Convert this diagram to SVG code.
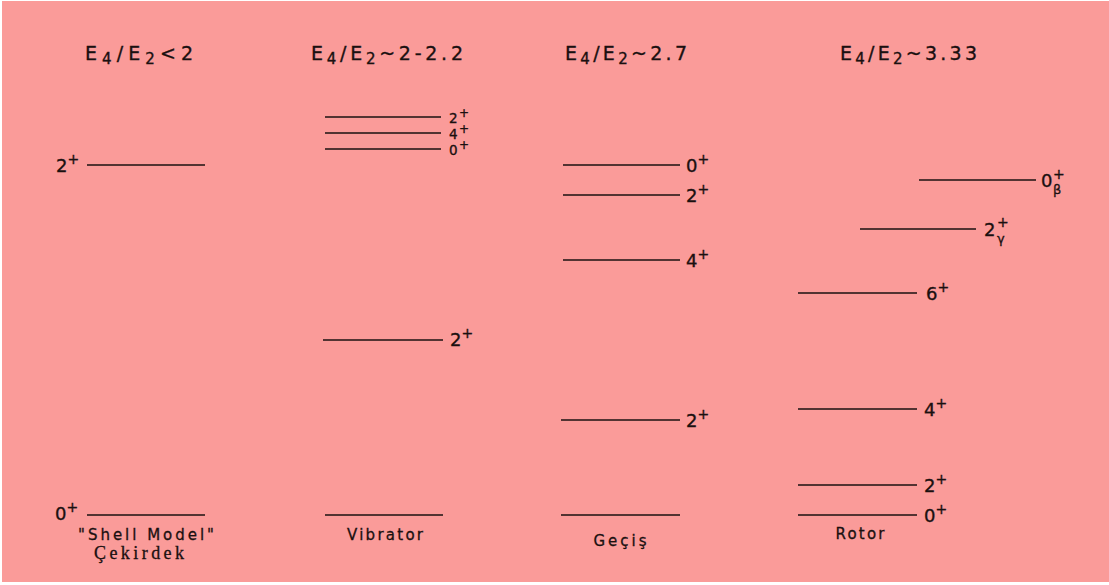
<svg xmlns="http://www.w3.org/2000/svg" width="1109" height="585" viewBox="0 0 1109 585">
<style>
.bg{fill:#fa9b99}
.lvl{stroke:#1a1010;stroke-width:1.7;fill:none}
.h{font-family:"DejaVu Sans",sans-serif;font-size:19px;fill:#1a1010;stroke:#1a1010;stroke-width:0.35}
.sb{font-size:15px}
.lb{font-family:"DejaVu Sans",sans-serif;font-size:18px;fill:#1a1010;stroke:#1a1010;stroke-width:0.35}
.st{font-size:13.5px}
.sp{font-size:14px}
.sq{font-size:12px}
.gk{font-family:"DejaVu Sans",sans-serif;font-size:13px;fill:#1a1010;stroke:#1a1010;stroke-width:0.3}
.nm{font-family:"DejaVu Sans",sans-serif;font-size:15px;fill:#1a1010;stroke:#1a1010;stroke-width:0.3;text-anchor:middle}
.sf{font-family:"Liberation Serif",serif;font-size:18px;fill:#1a1010;stroke:#1a1010;stroke-width:0.3;text-anchor:middle}
</style>
<rect x="0" y="0" width="1109" height="585" fill="#ffffff"/>
<rect class="bg" x="2" y="1" width="1107" height="581"/>

<g id="col-shell">
<text class="h" x="85" y="60" textLength="108">E<tspan class="sb" dy="4">4</tspan><tspan dy="-4">/E</tspan><tspan class="sb" dy="4">2</tspan><tspan dy="-4">&lt;2</tspan></text>
<g id="shell-2"><line class="lvl" x1="87" y1="165" x2="205" y2="165"/><text class="lb" x="56" y="172">2<tspan class="sp" dy="-8">+</tspan></text></g>
<g id="shell-0"><line class="lvl" x1="87" y1="515" x2="205" y2="515"/><text class="lb" x="55" y="520">0<tspan class="sp" dy="-8">+</tspan></text></g>
<text class="nm" x="146" y="540" textLength="136">"Shell Model"</text>
<text class="sf" x="139" y="559" textLength="90">Çekirdek</text>
</g>

<g id="col-vibrator">
<text class="h" x="311" y="60" textLength="152">E<tspan class="sb" dy="4">4</tspan><tspan dy="-4">/E</tspan><tspan class="sb" dy="4">2</tspan><tspan dy="-4">~2-2.2</tspan></text>
<g id="vib-2b"><line class="lvl" x1="325" y1="117" x2="441" y2="117"/><text class="lb st" x="449" y="123">2</text><text class="lb sq" x="459" y="117">+</text></g>
<g id="vib-4"><line class="lvl" x1="325" y1="133" x2="441" y2="133"/><text class="lb st" x="449" y="139">4</text><text class="lb sq" x="459" y="133">+</text></g>
<g id="vib-0b"><line class="lvl" x1="325" y1="149" x2="441" y2="149"/><text class="lb st" x="449" y="155">0</text><text class="lb sq" x="459" y="149">+</text></g>
<g id="vib-2"><line class="lvl" x1="323" y1="340" x2="443" y2="340"/><text class="lb" x="450" y="346">2<tspan class="sp" dy="-8">+</tspan></text></g>
<g id="vib-0"><line class="lvl" x1="325" y1="515" x2="443" y2="515"/></g>
<text class="nm" x="385" y="540" textLength="76">Vibrator</text>
</g>

<g id="col-gecis">
<text class="h" x="565" y="60" textLength="122">E<tspan class="sb" dy="4">4</tspan><tspan dy="-4">/E</tspan><tspan class="sb" dy="4">2</tspan><tspan dy="-4">~2.7</tspan></text>
<g id="gec-0b"><line class="lvl" x1="563" y1="165" x2="680" y2="165"/><text class="lb" x="686" y="172">0<tspan class="sp" dy="-8">+</tspan></text></g>
<g id="gec-2b"><line class="lvl" x1="563" y1="195" x2="680" y2="195"/><text class="lb" x="686" y="202">2<tspan class="sp" dy="-8">+</tspan></text></g>
<g id="gec-4"><line class="lvl" x1="563" y1="260" x2="680" y2="260"/><text class="lb" x="686" y="267">4<tspan class="sp" dy="-8">+</tspan></text></g>
<g id="gec-2"><line class="lvl" x1="561" y1="420" x2="680" y2="420"/><text class="lb" x="686" y="427">2<tspan class="sp" dy="-8">+</tspan></text></g>
<g id="gec-0"><line class="lvl" x1="561" y1="515" x2="680" y2="515"/></g>
<text class="nm" x="620" y="546" textLength="53">Geçiş</text>
</g>

<g id="col-rotor">
<text class="h" x="840" y="60" textLength="137">E<tspan class="sb" dy="4">4</tspan><tspan dy="-4">/E</tspan><tspan class="sb" dy="4">2</tspan><tspan dy="-4">~3.33</tspan></text>
<g id="rot-0beta"><line class="lvl" x1="919" y1="180" x2="1036" y2="180"/><text class="lb" x="1041" y="187">0</text><text class="lb sp" x="1053" y="179">+</text><text class="gk" x="1053" y="194">β</text></g>
<g id="rot-2gamma"><line class="lvl" x1="860" y1="229" x2="976" y2="229"/><text class="lb" x="984" y="236">2</text><text class="lb sp" x="997" y="227">+</text><text class="gk" x="997" y="243">γ</text></g>
<g id="rot-6"><line class="lvl" x1="798" y1="293" x2="917" y2="293"/><text class="lb" x="926" y="300">6<tspan class="sp" dy="-8">+</tspan></text></g>
<g id="rot-4"><line class="lvl" x1="798" y1="409" x2="917" y2="409"/><text class="lb" x="924" y="416">4<tspan class="sp" dy="-8">+</tspan></text></g>
<g id="rot-2"><line class="lvl" x1="798" y1="485" x2="917" y2="485"/><text class="lb" x="924" y="492">2<tspan class="sp" dy="-8">+</tspan></text></g>
<g id="rot-0"><line class="lvl" x1="798" y1="515" x2="917" y2="515"/><text class="lb" x="924" y="522">0<tspan class="sp" dy="-8">+</tspan></text></g>
<text class="nm" x="860" y="539" textLength="49">Rotor</text>
</g>

<g id="connectors"/>
</svg>
